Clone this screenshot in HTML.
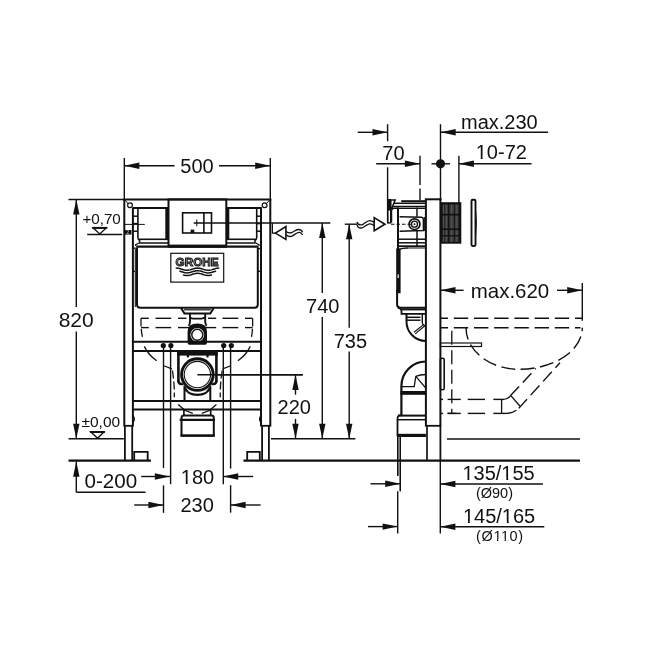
<!DOCTYPE html>
<html><head><meta charset="utf-8"><style>
html,body{margin:0;padding:0;background:#fff;width:650px;height:650px;overflow:hidden}
svg{display:block;will-change:transform}
text{font-family:"Liberation Sans",sans-serif;fill:#111;stroke:none}
</style></head><body>
<svg width="650" height="650" viewBox="0 0 650 650" stroke="#111" stroke-linecap="butt" fill="none">
<line x1="124.3" y1="158" x2="124.3" y2="199" stroke-width="1.4"/>
<line x1="270.3" y1="158" x2="270.3" y2="199" stroke-width="1.4"/>
<line x1="124.3" y1="165.7" x2="174.6" y2="165.7" stroke-width="1.4"/>
<polygon points="124.30,165.70 139.40,162.50 139.40,168.90" fill="#111" stroke="none"/>
<line x1="219" y1="165.7" x2="270.3" y2="165.7" stroke-width="1.4"/>
<polygon points="270.30,165.70 255.20,162.50 255.20,168.90" fill="#111" stroke="none"/>
<text x="197" y="173.2" font-size="20" text-anchor="middle">500</text>
<line x1="68.5" y1="199.5" x2="124" y2="199.5" stroke-width="1.4"/>
<line x1="76.3" y1="199.5" x2="76.3" y2="307.1" stroke-width="1.4"/>
<polygon points="76.30,199.50 73.10,214.60 79.50,214.60" fill="#111" stroke="none"/>
<line x1="76.3" y1="331.5" x2="76.3" y2="438.8" stroke-width="1.4"/>
<polygon points="76.30,438.80 73.10,423.70 79.50,423.70" fill="#111" stroke="none"/>
<text x="76.2" y="327.1" font-size="21" text-anchor="middle">820</text>
<line x1="87.2" y1="234.5" x2="122.2" y2="234.5" stroke-width="1.4"/>
<text x="101.6" y="224.0" font-size="15.2" text-anchor="middle">+0,70</text>
<path d="M93.2,227.9 L106.2,227.9 L99.8,233.9 Z" fill="none" stroke-width="1.4"/>
<line x1="92.2" y1="227.9" x2="107.2" y2="227.9" stroke-width="2.0"/>
<line x1="68.5" y1="438.8" x2="123.8" y2="438.8" stroke-width="1.4"/>
<text x="100.8" y="427.3" font-size="15.5" text-anchor="middle">±0,00</text>
<path d="M90.9,432.0 L103.9,432.0 L97.6,438.2 Z" fill="none" stroke-width="1.4"/>
<line x1="89.9" y1="432.0" x2="104.9" y2="432.0" stroke-width="2.0"/>
<polygon points="76.30,461.60 73.10,476.70 79.50,476.70" fill="#111" stroke="none"/>
<line x1="76.3" y1="461.6" x2="76.3" y2="492.2" stroke-width="1.4"/>
<line x1="76.3" y1="492.2" x2="145.5" y2="492.2" stroke-width="1.4"/>
<text x="110.9" y="488.4" font-size="20.6" text-anchor="middle">0-200</text>
<line x1="141.2" y1="476.5" x2="169.9" y2="476.5" stroke-width="1.4"/>
<polygon points="169.90,476.50 154.80,473.30 154.80,479.70" fill="#111" stroke="none"/>
<line x1="223.1" y1="476.5" x2="253.1" y2="476.5" stroke-width="1.4"/>
<polygon points="223.10,476.50 238.20,473.30 238.20,479.70" fill="#111" stroke="none"/>
<text x="197.5" y="484.2" font-size="20" text-anchor="middle">180</text>
<line x1="134.2" y1="505.0" x2="163.5" y2="505.0" stroke-width="1.4"/>
<polygon points="163.50,505.00 148.40,501.80 148.40,508.20" fill="#111" stroke="none"/>
<line x1="230.5" y1="505.0" x2="260.6" y2="505.0" stroke-width="1.4"/>
<polygon points="230.50,505.00 245.60,501.80 245.60,508.20" fill="#111" stroke="none"/>
<text x="197.2" y="512.4" font-size="20" text-anchor="middle">230</text>
<line x1="163.5" y1="347" x2="163.5" y2="468.1" stroke-width="1.4"/>
<line x1="163.5" y1="485.3" x2="163.5" y2="512.8" stroke-width="1.4"/>
<line x1="170.6" y1="347" x2="170.6" y2="484.2" stroke-width="1.4"/>
<line x1="223.3" y1="347" x2="223.3" y2="484.2" stroke-width="1.4"/>
<line x1="230.6" y1="347" x2="230.6" y2="468.5" stroke-width="1.4"/>
<line x1="230.6" y1="485.2" x2="230.6" y2="512.7" stroke-width="1.4"/>
<line x1="193.7" y1="223.0" x2="330.3" y2="223.0" stroke-width="1.4"/>
<line x1="322.3" y1="223.0" x2="322.3" y2="293.0" stroke-width="1.4"/>
<polygon points="322.30,223.00 319.10,238.10 325.50,238.10" fill="#111" stroke="none"/>
<line x1="322.3" y1="317.0" x2="322.3" y2="438.8" stroke-width="1.4"/>
<polygon points="322.30,438.80 319.10,423.70 325.50,423.70" fill="#111" stroke="none"/>
<text x="322.8" y="313.1" font-size="20" text-anchor="middle">740</text>
<line x1="344.8" y1="224.2" x2="357.0" y2="224.2" stroke-width="1.4"/>
<line x1="349.2" y1="224.2" x2="349.2" y2="327.7" stroke-width="1.4"/>
<polygon points="349.20,224.20 346.00,239.30 352.40,239.30" fill="#111" stroke="none"/>
<line x1="349.2" y1="351.5" x2="349.2" y2="438.8" stroke-width="1.4"/>
<polygon points="349.20,438.80 346.00,423.70 352.40,423.70" fill="#111" stroke="none"/>
<text x="350.4" y="347.7" font-size="20" text-anchor="middle">735</text>
<line x1="197.3" y1="374.8" x2="302.8" y2="374.8" stroke-width="1.4"/>
<line x1="295.5" y1="374.8" x2="295.5" y2="394.7" stroke-width="1.4"/>
<polygon points="295.50,374.80 292.30,389.90 298.70,389.90" fill="#111" stroke="none"/>
<line x1="295.5" y1="418.9" x2="295.5" y2="438.8" stroke-width="1.4"/>
<polygon points="295.50,438.80 292.30,423.70 298.70,423.70" fill="#111" stroke="none"/>
<text x="294.3" y="414.2" font-size="20" text-anchor="middle">220</text>
<line x1="271" y1="438.8" x2="355.4" y2="438.8" stroke-width="1.4"/>
<line x1="440.5" y1="124.2" x2="440.5" y2="200" stroke-width="1.4"/>
<line x1="440.6" y1="132.2" x2="548.1" y2="132.2" stroke-width="1.4"/>
<polygon points="440.60,132.20 455.70,129.00 455.70,135.40" fill="#111" stroke="none"/>
<text x="499.4" y="128.6" font-size="20" text-anchor="middle">max.230</text>
<line x1="357.7" y1="132.3" x2="387.6" y2="132.3" stroke-width="1.4"/>
<polygon points="387.60,132.30 372.50,129.10 372.50,135.50" fill="#111" stroke="none"/>
<line x1="387.6" y1="124.2" x2="387.6" y2="141.2" stroke-width="1.4"/>
<line x1="387.6" y1="167.3" x2="387.6" y2="200" stroke-width="1.4"/>
<line x1="376.2" y1="163.8" x2="420.0" y2="163.8" stroke-width="1.4"/>
<polygon points="420.00,163.80 404.90,160.60 404.90,167.00" fill="#111" stroke="none"/>
<text x="393.4" y="159.6" font-size="20" text-anchor="middle">70</text>
<line x1="420.0" y1="155.8" x2="420.0" y2="185" stroke-width="1.4"/>
<line x1="420.0" y1="188.5" x2="420.0" y2="200" stroke-width="1.4"/>
<circle cx="440.5" cy="163.8" r="4.6" fill="#111" stroke-width="0"/>
<line x1="431.5" y1="163.8" x2="450.0" y2="163.8" stroke-width="1.4"/>
<line x1="458.8" y1="163.7" x2="531.5" y2="163.7" stroke-width="1.4"/>
<polygon points="458.80,163.70 473.90,160.50 473.90,166.90" fill="#111" stroke="none"/>
<text x="501.3" y="158.9" font-size="20" text-anchor="middle">10-72</text>
<line x1="458.9" y1="155.8" x2="458.9" y2="203" stroke-width="1.4"/>
<line x1="440.4" y1="290.3" x2="463.6" y2="290.3" stroke-width="1.4"/>
<polygon points="440.40,290.30 455.50,287.10 455.50,293.50" fill="#111" stroke="none"/>
<line x1="557.0" y1="290.3" x2="582.3" y2="290.3" stroke-width="1.4"/>
<polygon points="582.30,290.30 567.20,287.10 567.20,293.50" fill="#111" stroke="none"/>
<text x="510.0" y="298.1" font-size="20.2" text-anchor="middle" textLength="78.5" lengthAdjust="spacingAndGlyphs">max.620</text>
<line x1="582.3" y1="283" x2="582.3" y2="320.8" stroke-width="1.4"/>
<line x1="370.5" y1="483.8" x2="400.3" y2="483.8" stroke-width="1.4"/>
<polygon points="400.30,483.80 385.20,480.60 385.20,487.00" fill="#111" stroke="none"/>
<line x1="440.3" y1="484.0" x2="542.9" y2="484.0" stroke-width="1.4"/>
<polygon points="440.30,484.00 455.40,480.80 455.40,487.20" fill="#111" stroke="none"/>
<text x="498.6" y="480.1" font-size="20" text-anchor="middle">135/155</text>
<text x="494.5" y="498.1" font-size="14.5" text-anchor="middle">(Ø90)</text>
<line x1="368.0" y1="526.6" x2="397.7" y2="526.6" stroke-width="1.4"/>
<polygon points="397.70,526.60 382.60,523.40 382.60,529.80" fill="#111" stroke="none"/>
<line x1="440.3" y1="526.7" x2="544.3" y2="526.7" stroke-width="1.4"/>
<polygon points="440.30,526.70 455.40,523.50 455.40,529.90" fill="#111" stroke="none"/>
<text x="499.1" y="523.0" font-size="20" text-anchor="middle">145/165</text>
<text x="499.6" y="540.6" font-size="14.5" text-anchor="middle" textLength="47" lengthAdjust="spacing">(Ø110)</text>
<line x1="397.7" y1="436.5" x2="397.7" y2="475.8" stroke-width="1.4"/>
<line x1="397.7" y1="491.2" x2="397.7" y2="533.5" stroke-width="1.4"/>
<line x1="400.3" y1="436.5" x2="400.3" y2="491.2" stroke-width="1.4"/>
<line x1="440.3" y1="460" x2="440.3" y2="533.5" stroke-width="1.4"/>
<line x1="68.5" y1="460.7" x2="150.9" y2="460.7" stroke-width="2.2"/>
<line x1="243.4" y1="460.7" x2="580.0" y2="460.7" stroke-width="2.2"/>
<line x1="447.0" y1="439.0" x2="580.0" y2="439.0" stroke-width="1.3"/>
<line x1="124.3" y1="199" x2="124.3" y2="426.6" stroke-width="2.0"/>
<line x1="270.3" y1="199" x2="270.3" y2="426.6" stroke-width="2.0"/>
<line x1="132.9" y1="207.5" x2="132.9" y2="426.6" stroke-width="2.0"/>
<line x1="261.0" y1="207.5" x2="261.0" y2="426.6" stroke-width="2.0"/>
<line x1="124.3" y1="425.8" x2="132.9" y2="425.8" stroke-width="1.8"/>
<line x1="261.0" y1="425.8" x2="270.3" y2="425.8" stroke-width="1.8"/>
<line x1="124.9" y1="425.8" x2="124.9" y2="460" stroke-width="1.8"/>
<line x1="132.2" y1="425.8" x2="132.2" y2="460" stroke-width="1.8"/>
<line x1="262.1" y1="425.8" x2="262.1" y2="460" stroke-width="1.8"/>
<line x1="268.9" y1="425.8" x2="268.9" y2="460" stroke-width="1.8"/>
<polyline points="134.2,460 134.2,451.8 147.7,451.8 147.7,460" fill="none" stroke-width="1.8"/>
<polyline points="247.2,460 247.2,451.8 259.8,451.8 259.8,460" fill="none" stroke-width="1.8"/>
<path d="M132.9,415.8 Q135.6,419 132.9,422.6" fill="none" stroke-width="1.4"/>
<path d="M261.0,415.8 Q258.3,419 261.0,422.6" fill="none" stroke-width="1.4"/>
<line x1="123.3" y1="199.4" x2="271.3" y2="199.4" stroke-width="2.0"/>
<line x1="124.6" y1="199.8" x2="128.3" y2="203.6" stroke-width="1.0"/>
<line x1="270.0" y1="199.8" x2="266.3" y2="203.6" stroke-width="1.0"/>
<circle cx="130.0" cy="205.2" r="2.4" fill="none" stroke-width="1.2"/>
<circle cx="264.6" cy="205.2" r="2.4" fill="none" stroke-width="1.2"/>
<line x1="132.9" y1="208.0" x2="168.5" y2="208.0" stroke-width="2.0"/>
<line x1="261.7" y1="208.0" x2="226.1" y2="208.0" stroke-width="2.0"/>
<line x1="137.9" y1="208.0" x2="137.9" y2="238.5" stroke-width="1.6"/>
<line x1="256.7" y1="208.0" x2="256.7" y2="238.5" stroke-width="1.6"/>
<line x1="132.9" y1="216.2" x2="137.9" y2="216.2" stroke-width="1.5"/>
<line x1="261.7" y1="216.2" x2="256.7" y2="216.2" stroke-width="1.5"/>
<line x1="132.9" y1="223.6" x2="137.9" y2="223.6" stroke-width="1.5"/>
<line x1="261.7" y1="223.6" x2="256.7" y2="223.6" stroke-width="1.5"/>
<line x1="132.9" y1="231.2" x2="137.9" y2="231.2" stroke-width="1.5"/>
<line x1="261.7" y1="231.2" x2="256.7" y2="231.2" stroke-width="1.5"/>
<rect x="165.3" y="208" width="3.0" height="31" fill="#111" stroke="none"/>
<rect x="226.3" y="208" width="3.0" height="31" fill="#111" stroke="none"/>
<line x1="137.9" y1="239.3" x2="168.5" y2="239.3" stroke-width="1.6"/>
<line x1="256.7" y1="239.3" x2="226.1" y2="239.3" stroke-width="1.6"/>
<polyline points="137.9,238.5 139.6,240.5 139.6,243.0 168.5,243.0" fill="none" stroke-width="1.5"/>
<polyline points="256.7,238.5 255.0,240.5 255.0,243.0 226.1,243.0" fill="none" stroke-width="1.5"/>
<polyline points="135.6,246.0 135.6,244.8 138.8,243.0" fill="none" stroke-width="1.3"/>
<polyline points="259.0,246.0 259.0,244.8 255.8,243.0" fill="none" stroke-width="1.3"/>
<line x1="125.0" y1="224.4" x2="144.8" y2="224.4" stroke-width="1.0"/>
<rect x="125.0" y="230.0" width="6.4" height="4.6" fill="#111" stroke="none"/>
<text x="126.2" y="234.2" font-size="5.5" style="fill:#bbb">2</text>
<rect x="168.5" y="199.4" width="57.8" height="47.0" rx="0" fill="none" stroke-width="2.0"/>
<rect x="168.5" y="244.6" width="57.8" height="3.0" fill="#111" stroke="none"/>
<rect x="182.6" y="212.8" width="28.9" height="20.2" rx="0" fill="none" stroke-width="1.6"/>
<line x1="203.9" y1="212.8" x2="203.9" y2="233.0" stroke-width="1.6"/>
<line x1="196.8" y1="219.5" x2="196.8" y2="226.3" stroke-width="1.0"/>
<rect x="190.6" y="229.6" width="3.7" height="3.4" fill="#111" stroke="none"/>
<path d="M137.0,247.4 L137.0,304.6 Q137.0,307.8 140.2,307.8 L254.6,307.8 Q257.8,307.8 257.8,304.6 L257.8,247.4" fill="none" stroke-width="2.0"/>
<line x1="136.2" y1="246.6" x2="258.5" y2="246.6" stroke-width="2.2"/>
<line x1="135.3" y1="249.0" x2="135.3" y2="270.7" stroke-width="1.1"/>
<line x1="135.3" y1="272.0" x2="135.3" y2="307.0" stroke-width="1.1"/>
<line x1="132.9" y1="248.2" x2="135.8" y2="248.2" stroke-width="1.4"/>
<line x1="132.9" y1="271.3" x2="135.8" y2="271.3" stroke-width="1.4"/>
<line x1="257.8" y1="248.6" x2="261.0" y2="248.6" stroke-width="1.4"/>
<line x1="257.8" y1="271.3" x2="261.0" y2="271.3" stroke-width="1.4"/>
<rect x="170.8" y="253.3" width="52.9" height="28.8" rx="0" fill="none" stroke-width="1.2"/>
<text x="197.1" y="265.6" font-size="11.4" text-anchor="middle" textLength="43" lengthAdjust="spacingAndGlyphs" style="fill:#a0a0a0;stroke:#111;stroke-width:0.95;font-family:'Liberation Sans',sans-serif;font-weight:bold">GROHE</text>
<polyline points="176.30,268.10 177.36,268.14 178.42,268.29 179.47,268.53 180.53,268.83 181.59,269.16 182.65,269.50 183.70,269.82 184.76,270.07 185.82,270.23 186.88,270.30 187.93,270.26 188.99,270.11 190.05,269.88 191.11,269.58 192.16,269.24 193.22,268.90 194.28,268.59 195.34,268.34 196.39,268.17 197.45,268.10 198.51,268.14 199.56,268.28 200.62,268.51 201.68,268.81 202.74,269.15 203.79,269.49 204.85,269.80 205.91,270.06 206.97,270.23 208.03,270.30 209.08,270.26 210.14,270.12 211.20,269.89 212.25,269.60 213.31,269.26 214.37,268.92 215.43,268.61 216.49,268.35 217.54,268.18 218.60,268.10" fill="none" stroke-width="1.5" stroke-linecap="round"/>
<polyline points="179.90,271.24 180.79,271.51 181.68,271.79 182.57,272.08 183.46,272.35 184.35,272.58 185.24,272.75 186.13,272.86 187.02,272.90 187.91,272.86 188.80,272.75 189.69,272.57 190.58,272.34 191.47,272.07 192.36,271.78 193.25,271.49 194.14,271.23 195.03,271.00 195.92,270.83 196.81,270.73 197.70,270.70 198.59,270.75 199.48,270.87 200.37,271.05 201.26,271.29 202.15,271.56 203.04,271.85 203.93,272.13 204.82,272.39 205.71,272.61 206.60,272.78 207.49,272.88 208.38,272.90 209.27,272.85 210.16,272.72 211.05,272.53 211.94,272.29 212.83,272.02 213.72,271.73 214.61,271.44 215.50,271.19" fill="none" stroke-width="1.5" stroke-linecap="round"/>
<polyline points="183.60,274.99 184.29,275.17 184.99,275.31 185.69,275.42 186.38,275.48 187.07,275.50 187.77,275.47 188.47,275.40 189.16,275.28 189.85,275.13 190.55,274.95 191.25,274.74 191.94,274.52 192.63,274.29 193.33,274.07 194.03,273.86 194.72,273.68 195.41,273.52 196.11,273.41 196.81,273.33 197.50,273.30 198.19,273.32 198.89,273.38 199.59,273.48 200.28,273.63 200.97,273.81 201.67,274.01 202.37,274.23 203.06,274.45 203.75,274.68 204.45,274.89 205.15,275.08 205.84,275.24 206.53,275.37 207.23,275.45 207.93,275.50 208.62,275.49 209.31,275.44 210.01,275.35 210.71,275.21 211.40,275.04" fill="none" stroke-width="1.5" stroke-linecap="round"/>
<line x1="141.0" y1="318.3" x2="148.8" y2="318.3" stroke-width="1.4"/>
<line x1="141.0" y1="327.6" x2="148.8" y2="327.6" stroke-width="1.4"/>
<line x1="155.5" y1="318.3" x2="171.2" y2="318.3" stroke-width="1.4"/>
<line x1="155.5" y1="327.6" x2="171.2" y2="327.6" stroke-width="1.4"/>
<line x1="178.0" y1="318.3" x2="190.0" y2="318.3" stroke-width="1.4"/>
<line x1="178.0" y1="327.6" x2="190.0" y2="327.6" stroke-width="1.4"/>
<line x1="205.0" y1="318.3" x2="216.2" y2="318.3" stroke-width="1.4"/>
<line x1="205.0" y1="327.6" x2="216.2" y2="327.6" stroke-width="1.4"/>
<line x1="222.5" y1="318.3" x2="238.3" y2="318.3" stroke-width="1.4"/>
<line x1="222.5" y1="327.6" x2="238.3" y2="327.6" stroke-width="1.4"/>
<line x1="245.0" y1="318.3" x2="252.6" y2="318.3" stroke-width="1.4"/>
<line x1="245.0" y1="327.6" x2="252.6" y2="327.6" stroke-width="1.4"/>
<path d="M141,318.3 Q140.6,330 142.8,338.5" fill="none" stroke-width="1.3" stroke-dasharray="8 2.5"/>
<path d="M252.6,318.3 Q253.0,330 251.2,338.5" fill="none" stroke-width="1.3" stroke-dasharray="8 2.5"/>
<path d="M144.3,346.4 Q148.5,355.2 156.7,360.8" fill="none" stroke-width="1.3"/>
<path d="M250.3,346.4 Q246.1,355.2 237.9,360.8" fill="none" stroke-width="1.3"/>
<polyline points="163.8,365.8 171.9,368.9" fill="none" stroke-width="1.2"/>
<polyline points="230.8,365.8 222.7,368.9" fill="none" stroke-width="1.2"/>
<path d="M172.4,370.5 Q174.6,384 174.3,397.2" fill="none" stroke-width="1.3" stroke-dasharray="8 3"/>
<path d="M222.2,370.5 Q220.0,384 220.3,397.2" fill="none" stroke-width="1.3" stroke-dasharray="8 3"/>
<rect x="186.5" y="312" width="21.5" height="13" fill="#fff" stroke="none"/>
<path d="M181.0,308.0 L184.5,313.6 L210.3,313.6 L213.7,308.0" fill="none" stroke-width="2.0"/>
<line x1="184.0" y1="309.8" x2="210.8" y2="309.8" stroke-width="1.2"/>
<path d="M190.0,313.6 L190.0,321.5 Q190.0,324.2 188.6,326.0" fill="none" stroke-width="1.9"/>
<path d="M205.2,313.6 L205.2,321.5 Q205.2,324.2 206.6,326.0" fill="none" stroke-width="1.9"/>
<path d="M190.0,317.3 Q191.5,318.6 193.5,318.6 L201.5,318.6 Q203.5,318.6 205.2,317.3" fill="none" stroke-width="1.7"/>
<path d="M187.6,331.6 Q187.6,323.4 197.3,323.4 Q207.0,323.4 207.0,331.6 L207.0,342.2 Q207.0,344.8 204.4,344.8 L190.2,344.8 Q187.6,344.8 187.6,342.2 Z" fill="#111" stroke-width="0"/>
<circle cx="197.3" cy="334.8" r="6.9" fill="#fff" stroke-width="0"/>
<circle cx="197.3" cy="334.8" r="5.5" fill="none" stroke-width="1.4"/>
<line x1="132.9" y1="341.8" x2="261.0" y2="341.8" stroke-width="2.0"/>
<line x1="132.9" y1="350.9" x2="261.0" y2="350.9" stroke-width="2.0"/>
<line x1="132.9" y1="400.9" x2="261.0" y2="400.9" stroke-width="2.0"/>
<line x1="132.9" y1="409.5" x2="261.0" y2="409.5" stroke-width="2.0"/>
<circle cx="163.3" cy="345.5" r="2.6" fill="#111" stroke-width="0"/>
<circle cx="170.9" cy="345.5" r="2.6" fill="#111" stroke-width="0"/>
<circle cx="223.7" cy="345.5" r="2.6" fill="#111" stroke-width="0"/>
<circle cx="231.3" cy="345.5" r="2.6" fill="#111" stroke-width="0"/>
<rect x="177.1" y="351" width="40.6" height="34" fill="#fff" stroke="none"/>
<rect x="177.1" y="351.0" width="40.6" height="4.6" fill="#111" stroke="none"/>
<rect x="177.1" y="351.0" width="2.6" height="31.0" fill="#111" stroke="none"/>
<rect x="215.1" y="351.0" width="2.6" height="31.0" fill="#111" stroke="none"/>
<path d="M178.4,380.5 Q178.4,384.0 181.5,384.0 L184.0,384.0" fill="none" stroke-width="2.4"/>
<path d="M216.4,380.5 Q216.4,384.0 213.3,384.0 L210.8,384.0" fill="none" stroke-width="2.4"/>
<rect x="186.8" y="355.0" width="2.2" height="2.4" fill="#111" stroke="none"/>
<rect x="206.4" y="355.0" width="2.2" height="2.4" fill="#111" stroke="none"/>
<line x1="184.5" y1="386" x2="184.5" y2="401.0" stroke-width="2.0"/>
<line x1="210.3" y1="386" x2="210.3" y2="401.0" stroke-width="2.0"/>
<circle cx="197.4" cy="374.6" r="17.2" fill="#fff" stroke-width="0"/>
<circle cx="197.4" cy="374.6" r="15.8" fill="none" stroke-width="2.9"/>
<circle cx="197.4" cy="374.6" r="13.2" fill="none" stroke-width="1.1"/>
<path d="M184.5,387.5 Q188,394.8 197.4,394.8 Q206.8,394.8 210.3,387.5" fill="none" stroke-width="2.4"/>
<path d="M188.5,391.3 Q192.5,393.0 197.4,393.0 Q202.3,393.0 206.3,391.3" fill="none" stroke-width="0.7" stroke="#fff"/>
<line x1="178.2" y1="404.5" x2="183.7" y2="409.3" stroke-width="1.3"/>
<line x1="216.4" y1="404.5" x2="210.9" y2="409.3" stroke-width="1.3"/>
<line x1="183.9" y1="410.0" x2="192.8" y2="413.3" stroke-width="1.3"/>
<line x1="210.7" y1="410.0" x2="201.8" y2="413.3" stroke-width="1.3"/>
<line x1="183.9" y1="409.8" x2="183.9" y2="415.0" stroke-width="1.7"/>
<line x1="210.7" y1="409.8" x2="210.7" y2="415.0" stroke-width="1.7"/>
<path d="M181.5,435.6 L181.5,418.0 Q181.5,415.6 184.0,415.6 L211.3,415.6 Q213.8,415.6 213.8,418.0 L213.8,435.6" fill="none" stroke-width="2.0"/>
<line x1="179.7" y1="419.8" x2="215.0" y2="419.8" stroke-width="2.2"/>
<rect x="180.5" y="434.3" width="34.3" height="2.6" fill="#111" stroke="none"/>
<line x1="197.4" y1="374.8" x2="302.8" y2="374.8" stroke-width="1.4"/>
<line x1="425.9" y1="199.2" x2="425.9" y2="426.6" stroke-width="2.0"/>
<line x1="440.4" y1="198.2" x2="440.4" y2="426.6" stroke-width="2.0"/>
<line x1="424.9" y1="199.3" x2="441.4" y2="199.3" stroke-width="2.0"/>
<line x1="425.9" y1="425.8" x2="440.4" y2="425.8" stroke-width="1.8"/>
<line x1="427.0" y1="425.8" x2="427.0" y2="460" stroke-width="1.7"/>
<line x1="440.4" y1="425.8" x2="440.4" y2="460" stroke-width="1.8"/>
<rect x="386.9" y="199.0" width="4.4" height="24.6" fill="#111" stroke="none"/>
<rect x="388.6" y="210.5" width="1.4" height="11.6" fill="#fff" stroke="none"/>
<path d="M390.6,199.9 L395.2,199.9 L391.6,208.8 L390.6,208.8 Z" fill="none" stroke-width="1.5"/>
<line x1="391.2" y1="208.5" x2="425.9" y2="208.5" stroke-width="1.2"/>
<rect x="401.2" y="200.2" width="24.7" height="2.0" fill="#111" stroke="none"/>
<line x1="394.0" y1="203.3" x2="425.9" y2="203.3" stroke-width="1.5"/>
<line x1="392.6" y1="206.7" x2="425.9" y2="206.7" stroke-width="1.8"/>
<path d="M391.6,222.5 L391.6,210.8 Q391.6,208.4 394.2,208.4 L398.0,208.4" fill="none" stroke-width="1.3"/>
<line x1="398.0" y1="207.5" x2="398.0" y2="249.0" stroke-width="2.0"/>
<line x1="417.0" y1="207.5" x2="417.0" y2="216.8" stroke-width="1.5"/>
<line x1="417.0" y1="231.0" x2="417.0" y2="246.0" stroke-width="1.5"/>
<path d="M399.6,216.8 L421.6,217.2 Q423.4,217.4 423.4,219.4 L423.4,230.4 L399.6,231.2" fill="none" stroke-width="1.5"/>
<line x1="424.6" y1="217.0" x2="424.6" y2="231.0" stroke-width="1.0"/>
<circle cx="414.5" cy="224.2" r="5.4" fill="none" stroke-width="1.7"/>
<circle cx="414.5" cy="224.2" r="3.0" fill="none" stroke-width="1.3"/>
<circle cx="414.5" cy="224.2" r="0.9" fill="#111" stroke-width="0"/>
<line x1="391.0" y1="224.2" x2="412.0" y2="224.2" stroke-width="1.1" stroke-dasharray="3.5 2"/>
<line x1="398.0" y1="239.2" x2="425.9" y2="239.2" stroke-width="1.5"/>
<line x1="398.0" y1="242.8" x2="425.9" y2="242.8" stroke-width="1.5"/>
<line x1="398.0" y1="246.2" x2="425.9" y2="246.2" stroke-width="1.8"/>
<path d="M399.5,249.5 Q402,248 408,248" fill="none" stroke-width="1.3"/>
<line x1="408.0" y1="248.0" x2="425.9" y2="248.0" stroke-width="1.0"/>
<rect x="396.2" y="248.4" width="4.4" height="44.8" fill="#111" stroke="none"/>
<rect x="397.6" y="274.4" width="1.2" height="3.6" fill="#fff" stroke="none"/>
<path d="M397.1,290 L397.1,304.6 Q397.1,307.7 400.2,307.7 L425.9,307.7" fill="none" stroke-width="2.0"/>
<path d="M397.8,307.7 Q401.5,308.5 401.5,311.5 L401.5,313.8 L425.9,313.8" fill="none" stroke-width="1.8"/>
<line x1="401.5" y1="309.5" x2="425.9" y2="309.5" stroke-width="1.8"/>
<path d="M406.5,313.8 L406.5,321.5 A19.5,19.5 0 0 0 425.9,341.0" fill="none" stroke-width="2.0"/>
<line x1="407.0" y1="317.3" x2="420.5" y2="317.3" stroke-width="1.5"/>
<line x1="407.0" y1="320.2" x2="420.5" y2="320.2" stroke-width="1.5"/>
<line x1="422.3" y1="313.8" x2="422.3" y2="323.5" stroke-width="1.4"/>
<path d="M422.3,323.5 L425.9,327" fill="none" stroke-width="1.2"/>
<line x1="414.0" y1="332.3" x2="423.5" y2="324.6" stroke-width="1.1"/>
<line x1="415.2" y1="333.8" x2="424.6" y2="326.0" stroke-width="1.1"/>
<path d="M425.9,361.5 A24.5,24.5 0 0 0 401.4,386.0 L401.4,415.4" fill="none" stroke-width="2.2"/>
<path d="M415.8,376.3 Q420,374.6 425.9,374.5" fill="none" stroke-width="1.3"/>
<line x1="415.8" y1="376.3" x2="425.6" y2="387.8" stroke-width="1.3"/>
<polyline points="415.8,376.3 414.2,386.6 401.4,386.6" fill="none" stroke-width="1.3"/>
<rect x="400.4" y="391.0" width="25.5" height="3.8" fill="#111" stroke="none"/>
<path d="M401.4,415.4 L399.2,415.4 Q397.5,416 397.5,418.5 L397.5,436.3" fill="none" stroke-width="1.8"/>
<line x1="398.0" y1="415.6" x2="425.9" y2="415.6" stroke-width="2.0"/>
<line x1="398.0" y1="419.7" x2="425.9" y2="419.7" stroke-width="1.5"/>
<rect x="397.2" y="433.8" width="28.7" height="3.2" fill="#111" stroke="none"/>
<line x1="397.8" y1="436.5" x2="397.8" y2="476.0" stroke-width="1.1"/>
<line x1="400.3" y1="436.5" x2="400.3" y2="491.2" stroke-width="1.1"/>
<rect x="440.6" y="202.2" width="20.7" height="41.5" fill="#111" stroke="none"/>
<rect x="442.6" y="204.6" width="1.8" height="9.2" fill="#3c3c3c" stroke="none"/>
<line x1="443.5" y1="204.6" x2="443.5" y2="213.8" stroke="#5a5a5a" stroke-width="0.8"/>
<rect x="444.9" y="204.6" width="3.0" height="9.2" fill="#3c3c3c" stroke="none"/>
<line x1="446.4" y1="204.6" x2="446.4" y2="213.8" stroke="#5a5a5a" stroke-width="0.8"/>
<rect x="449.3" y="204.6" width="4.7" height="9.2" fill="#3c3c3c" stroke="none"/>
<line x1="451.6" y1="204.6" x2="451.6" y2="213.8" stroke="#5a5a5a" stroke-width="0.8"/>
<rect x="454.8" y="204.6" width="3.8" height="9.2" fill="#3c3c3c" stroke="none"/>
<line x1="456.7" y1="204.6" x2="456.7" y2="213.8" stroke="#5a5a5a" stroke-width="0.8"/>
<rect x="442.6" y="215.6" width="1.8" height="12.8" fill="#3c3c3c" stroke="none"/>
<line x1="443.5" y1="215.6" x2="443.5" y2="228.4" stroke="#5a5a5a" stroke-width="0.8"/>
<rect x="444.9" y="215.6" width="3.0" height="12.8" fill="#3c3c3c" stroke="none"/>
<line x1="446.4" y1="215.6" x2="446.4" y2="228.4" stroke="#5a5a5a" stroke-width="0.8"/>
<rect x="449.3" y="215.6" width="4.7" height="12.8" fill="#3c3c3c" stroke="none"/>
<line x1="451.6" y1="215.6" x2="451.6" y2="228.4" stroke="#5a5a5a" stroke-width="0.8"/>
<rect x="454.8" y="215.6" width="3.8" height="12.8" fill="#3c3c3c" stroke="none"/>
<line x1="456.7" y1="215.6" x2="456.7" y2="228.4" stroke="#5a5a5a" stroke-width="0.8"/>
<rect x="442.6" y="230.1" width="1.8" height="5.0" fill="#3c3c3c" stroke="none"/>
<line x1="443.5" y1="230.1" x2="443.5" y2="235.1" stroke="#5a5a5a" stroke-width="0.8"/>
<rect x="444.9" y="230.1" width="3.0" height="5.0" fill="#3c3c3c" stroke="none"/>
<line x1="446.4" y1="230.1" x2="446.4" y2="235.1" stroke="#5a5a5a" stroke-width="0.8"/>
<rect x="449.3" y="230.1" width="4.7" height="5.0" fill="#3c3c3c" stroke="none"/>
<line x1="451.6" y1="230.1" x2="451.6" y2="235.1" stroke="#5a5a5a" stroke-width="0.8"/>
<rect x="454.8" y="230.1" width="3.8" height="5.0" fill="#3c3c3c" stroke="none"/>
<line x1="456.7" y1="230.1" x2="456.7" y2="235.1" stroke="#5a5a5a" stroke-width="0.8"/>
<rect x="442.6" y="236.5" width="1.8" height="5.3" fill="#3c3c3c" stroke="none"/>
<line x1="443.5" y1="236.5" x2="443.5" y2="241.8" stroke="#5a5a5a" stroke-width="0.8"/>
<rect x="444.9" y="236.5" width="3.0" height="5.3" fill="#3c3c3c" stroke="none"/>
<line x1="446.4" y1="236.5" x2="446.4" y2="241.8" stroke="#5a5a5a" stroke-width="0.8"/>
<rect x="449.3" y="236.5" width="4.7" height="5.3" fill="#3c3c3c" stroke="none"/>
<line x1="451.6" y1="236.5" x2="451.6" y2="241.8" stroke="#5a5a5a" stroke-width="0.8"/>
<rect x="454.8" y="236.5" width="3.8" height="5.3" fill="#3c3c3c" stroke="none"/>
<line x1="456.7" y1="236.5" x2="456.7" y2="241.8" stroke="#5a5a5a" stroke-width="0.8"/>
<rect x="471.5" y="199.7" width="4.0" height="46.3" rx="1.2" fill="none" stroke-width="1.9"/>
<path d="M475.6,210 Q477.3,222 475.6,236" fill="none" stroke-width="1.0"/>
<line x1="440.4" y1="318.3" x2="582.3" y2="318.3" stroke-width="1.4" stroke-dasharray="14.4 5.8" stroke-dashoffset="6.8"/>
<line x1="440.4" y1="327.8" x2="580.5" y2="327.8" stroke-width="1.4" stroke-dasharray="14.4 5.8" stroke-dashoffset="6.8"/>
<path d="M466.0,327.8 A53,41.5 0 0 0 519.0,369.3 A63.3,41.5 0 0 0 582.3,327.8" fill="none" stroke-width="1.4" stroke-dasharray="14 5.5" stroke-dashoffset="2"/>
<line x1="440.4" y1="399.4" x2="443.0" y2="399.4" stroke-width="1.4"/>
<line x1="440.4" y1="413.4" x2="443.0" y2="413.4" stroke-width="1.4"/>
<line x1="447.6" y1="399.4" x2="460.8" y2="399.4" stroke-width="1.4"/>
<line x1="447.6" y1="413.4" x2="460.8" y2="413.4" stroke-width="1.4"/>
<line x1="467.7" y1="399.4" x2="485.0" y2="399.4" stroke-width="1.4"/>
<line x1="467.7" y1="413.4" x2="485.0" y2="413.4" stroke-width="1.4"/>
<line x1="493.3" y1="399.4" x2="503.9" y2="399.4" stroke-width="1.4"/>
<line x1="493.3" y1="413.4" x2="506.2" y2="413.4" stroke-width="1.4"/>
<path d="M503.7,399.4 Q507.6,399.4 510.6,395.6" fill="none" stroke-width="1.4"/>
<path d="M510.6,395.6 L535.8,368.5" fill="none" stroke-width="1.4" stroke-dasharray="12.5 5.5"/>
<path d="M506.0,413.4 Q514.8,413.4 520.3,406.6" fill="none" stroke-width="1.4" stroke-dasharray="11 3"/>
<path d="M520.3,406.6 L560.0,362.7" fill="none" stroke-width="1.4" stroke-dasharray="13 5.5" stroke-dashoffset="3"/>
<line x1="510.6" y1="395.4" x2="520.3" y2="406.5" stroke-width="1.3"/>
<line x1="501.6" y1="399.4" x2="501.6" y2="413.4" stroke-width="1.3"/>
<line x1="451.8" y1="327.8" x2="451.8" y2="413.4" stroke-width="1.3" stroke-dasharray="14 5.5" stroke-dashoffset="-3"/>
<line x1="447.6" y1="413.4" x2="456.0" y2="413.4" stroke-width="1.4"/>
<rect x="440.4" y="343.0" width="41.1" height="3.5" rx="0" fill="none" stroke-width="1.2"/>
<rect x="440.4" y="358.3" width="3.8" height="31.5" rx="1.5" fill="none" stroke-width="1.6"/>
<path d="M384.9,224.2 L374.2,217.6 L374.2,230.8 Z" fill="none" stroke-width="1.6"/>
<path d="M357.0,222.0 C357.6,224.8 359.5,225.3 362.0,224.8 C364.5,224.2 366.5,220.8 369.5,220.6 C371.5,220.5 373,221.5 374.2,222.6" fill="none" stroke-width="1.3"/>
<path d="M357.0,224.6 C357.6,227.6 359.5,228.3 362.0,227.9 C364.5,227.2 366.5,224.2 369.5,223.8 C371.5,223.6 373,224.6 374.2,225.8" fill="none" stroke-width="1.3"/>
<polyline points="272.4,223.0 272.4,233.2 275.2,233.2" fill="none" stroke-width="1.2"/>
<path d="M275.4,233.1 L285.9,226.5 L285.9,239.4 Z" fill="none" stroke-width="1.6"/>
<path d="M286.2,231.4 C288,233.0 290,233.2 292,232.4 C294,231.5 296,229.6 298.2,229.5 C300.3,229.4 301.8,230.5 302.5,232.2" fill="none" stroke-width="1.3"/>
<path d="M286.2,234.7 C288,236.6 290.5,236.8 292.6,235.8 C294.6,234.8 296.5,232.6 298.8,232.3 C300.6,232.1 301.8,233.4 302.5,235.0" fill="none" stroke-width="1.3"/>
<!--ones-->
<rect x="181.79" y="482.00" width="3.98" height="3.00" fill="#fff" stroke="none"/>
<rect x="187.68" y="482.00" width="3.88" height="3.00" fill="#fff" stroke="none"/>
<rect x="476.70" y="157.00" width="3.98" height="3.00" fill="#fff" stroke="none"/>
<rect x="482.59" y="157.00" width="3.88" height="3.00" fill="#fff" stroke="none"/>
<rect x="463.43" y="478.00" width="3.98" height="3.00" fill="#fff" stroke="none"/>
<rect x="469.32" y="478.00" width="3.88" height="3.00" fill="#fff" stroke="none"/>
<rect x="502.35" y="478.00" width="3.98" height="3.00" fill="#fff" stroke="none"/>
<rect x="508.24" y="478.00" width="3.88" height="3.00" fill="#fff" stroke="none"/>
<rect x="463.93" y="521.00" width="3.98" height="3.00" fill="#fff" stroke="none"/>
<rect x="469.82" y="521.00" width="3.88" height="3.00" fill="#fff" stroke="none"/>
<rect x="502.85" y="521.00" width="3.98" height="3.00" fill="#fff" stroke="none"/>
<rect x="508.74" y="521.00" width="3.88" height="3.00" fill="#fff" stroke="none"/>
<rect x="494.08" y="539.00" width="2.89" height="2.00" fill="#fff" stroke="none"/>
<rect x="498.35" y="539.00" width="2.81" height="2.00" fill="#fff" stroke="none"/>
<rect x="501.66" y="539.00" width="2.89" height="2.00" fill="#fff" stroke="none"/>
<rect x="505.93" y="539.00" width="2.81" height="2.00" fill="#fff" stroke="none"/>
<!--/ones-->
</svg>
</body></html>
